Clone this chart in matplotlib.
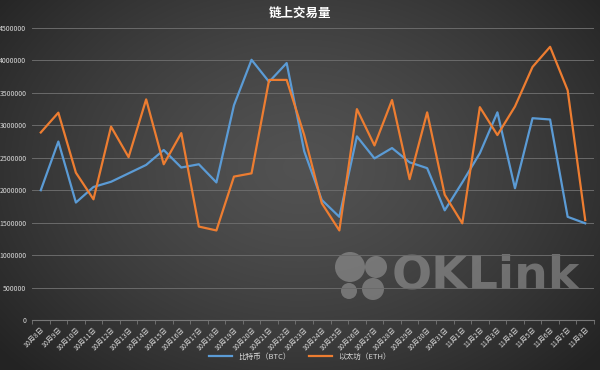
#!/usr/bin/env python3
"""On-chain transaction volume, BTC vs ETH, Oct 8 - Nov 8."""

import matplotlib
matplotlib.use("Agg")
import matplotlib.pyplot as plt
import numpy as np
from matplotlib.patches import Circle

plt.rcParams["font.family"] = ["Noto Sans CJK SC", "DejaVu Sans"]

DATES = [f"10月{d}日" for d in range(8, 32)] + [f"11月{d}日" for d in range(1, 9)]
BTC = [2000000, 2750000, 1810000, 2050000, 2130000, 2260000, 2390000, 2620000,
       2350000, 2400000, 2120000, 3310000, 4010000, 3670000, 3960000, 2600000,
       1850000, 1590000, 2830000, 2490000, 2650000, 2430000, 2340000, 1690000,
       2120000, 2570000, 3200000, 2030000, 3110000, 3090000, 1590000, 1490000]
ETH = [2890000, 3195000, 2270000, 1860000, 2980000, 2510000, 3400000, 2400000,
       2880000, 1440000, 1380000, 2210000, 2260000, 3700000, 3700000, 2850000,
       1800000, 1380000, 3250000, 2690000, 3390000, 2170000, 3200000, 1930000,
       1490000, 3280000, 2850000, 3290000, 3900000, 4210000, 3540000, 1540000]
LABELS = ["比特币（BTC）", "以太坊（ETH）"]

W, H = 600, 370
fig = plt.figure(figsize=(W / 100, H / 100), dpi=100)

# dark radial background
bg = fig.add_axes([0, 0, 1, 1], zorder=0)
yy, xx = np.mgrid[0:H, 0:W]
r = np.sqrt(((xx - W * 0.5) / (W * 0.62)) ** 2 + ((yy - H * 0.45) / (H * 0.75)) ** 2)
shade = np.clip(0.32 - 0.17 * r ** 1.4, 0.14, 0.32)
bg.imshow(np.dstack([shade] * 3), extent=[0, W, H, 0], aspect="auto", interpolation="bilinear")
bg.set_xlim(0, W)
bg.set_ylim(H, 0)
bg.axis("off")

# watermark
for cx, cy, rad in [(350, 267, 15), (376, 267, 11), (349, 291, 8), (373, 289, 11)]:
    bg.add_patch(Circle((cx, cy), rad, color="#a0a0a0", alpha=0.55, lw=0))
bg.text(392, 276, "OKLink", fontsize=34, color="#a0a0a0", alpha=0.55,
        va="center", ha="left", family=["DejaVu Sans"], weight="bold")

ax = fig.add_axes([32 / W, 1 - 320 / H, 562 / W, 292 / H], zorder=1)
ax.patch.set_alpha(0)
x = np.arange(len(DATES))
ax.plot(x, BTC, color="#5b9bd5", lw=1.6, label=LABELS[0], zorder=3)
ax.plot(x, ETH, color="#ed7d31", lw=1.6, label=LABELS[1], zorder=3)

ax.set_xlim(-0.5, len(DATES) - 0.5)
ax.set_ylim(0, 4500000)
ax.set_yticks(np.arange(0, 4500001, 500000))
ax.set_yticklabels([str(v) for v in range(0, 4500001, 500000)], fontsize=5, color="#d8d8d8")
ax.set_xticks(x)
ax.set_xticklabels(DATES, rotation=45, ha="right", rotation_mode="anchor",
                   fontsize=5, color="#d8d8d8")
ax.set_xticks(np.arange(-0.5, len(DATES), 1), minor=True)
ax.tick_params(axis="x", which="major", length=0, pad=4)
ax.tick_params(axis="x", which="minor", length=3, color="#777777")
ax.tick_params(axis="y", length=0, pad=4)
ax.grid(True, axis="y", color="#6a6a6a", lw=0.7)
for s in ["top", "right", "left"]:
    ax.spines[s].set_visible(False)
ax.spines["bottom"].set_color("#777777")
ax.spines["bottom"].set_linewidth(0.8)

fig.text(0.5, 1 - 13 / H, "链上交易量", ha="center", va="center", fontsize=9,
         color="white", weight="bold")
fig.legend(loc="center", bbox_to_anchor=(0.5, 1 - 357 / H), ncol=2, frameon=False,
           fontsize=5.5, labelcolor="#d8d8d8", handlelength=3, columnspacing=2.5)

fig.savefig("out.png", dpi=100, facecolor="#333333")
